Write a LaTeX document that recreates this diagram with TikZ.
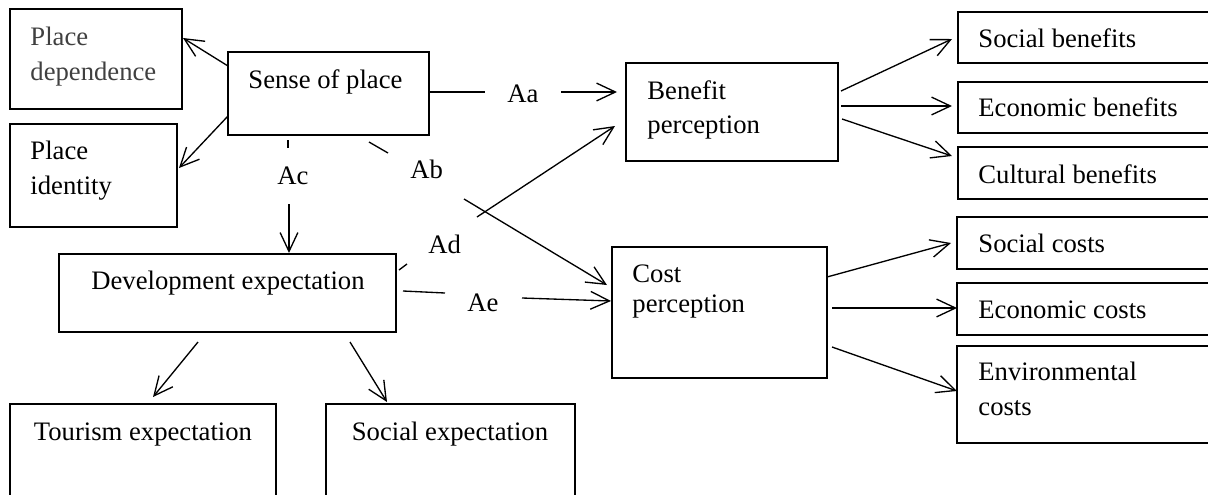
\documentclass[tikz,border=0pt]{standalone}
\usepackage{fontspec}
\setmainfont{Liberation Serif}
\usetikzlibrary{arrows.meta}
\definecolor{greytext}{HTML}{404040}
\begin{document}
\begin{tikzpicture}[x=0.45pt,y=-0.45pt,
  font=\fontsize{12pt}{14pt}\selectfont,
  box/.style={draw=black,line width=0.5pt,inner sep=0pt,outer sep=0pt,anchor=north west},
  txt/.style={inner sep=0pt,anchor=base west},
  ctxt/.style={inner sep=0pt,anchor=base},
  conn/.style={line width=0.6pt,-{Straight Barb[length=8.5pt,width=8pt,line width=0.6pt]}},
  plain/.style={line width=0.6pt}]
\useasboundingbox (0,0) rectangle (1208,494);
\clip (0,0) rectangle (1208,494);

% boxes
\node[box,minimum width=77.4pt,minimum height=45pt] (pd) at (10,9) {};
\node[box,minimum width=75.15pt,minimum height=46.35pt] (pi) at (10,124) {};
\node[box,minimum width=90.45pt,minimum height=37.35pt] (sp) at (228,52) {};
\node[box,minimum width=95.4pt,minimum height=44.1pt] (bp) at (626,63) {};
\node[box,minimum width=96.75pt,minimum height=58.95pt] (cp) at (612,247) {};
\node[box,minimum width=151.65pt,minimum height=35.1pt] (de) at (59,254) {};
\node[box,minimum width=119.7pt,minimum height=52.2pt] (te) at (10,404) {};
\node[box,minimum width=112.05pt,minimum height=52.2pt] (se) at (326,404) {};
\node[box,minimum width=122.4pt,minimum height=22.95pt] (sb) at (958,12) {};
\node[box,minimum width=122.4pt,minimum height=22.95pt] (eb) at (958,82) {};
\node[box,minimum width=122.4pt,minimum height=23.4pt] (cb) at (958,147) {};
\node[box,minimum width=122.4pt,minimum height=23.4pt] (sc) at (957,217) {};
\node[box,minimum width=122.4pt,minimum height=23.4pt] (ec) at (957,283) {};
\node[box,minimum width=122.4pt,minimum height=43.65pt] (env) at (957,346) {};

% texts
\node[txt,text=greytext] (pdA) at (30,45) {Place};
\node[txt,text=greytext] (pdB) at (30,80) {dependence};
\node[txt] (piA) at (30,159) {Place};
\node[txt] (piB) at (30,194) {identity};
\node[txt] (spT) at (248,88) {Sense of place};
\node[txt] (bpA) at (647,99) {Benefit};
\node[txt] (bpB) at (647,133) {perception};
\node[txt] (cpA) at (632,282) {Cost};
\node[txt] (cpB) at (632,312) {perception};
\node[ctxt] (deT) at (228,289) {Development expectation};
\node[ctxt] (teT) at (143,440) {Tourism expectation};
\node[ctxt] (seT) at (450,440) {Social expectation};
\node[txt] (sbT) at (978,47) {Social benefits};
\node[txt] (ebT) at (978,116) {Economic benefits};
\node[txt] (cbT) at (978,183) {Cultural benefits};
\node[txt] (scT) at (978,252) {Social costs};
\node[txt] (ecT) at (978,318) {Economic costs};
\node[txt] (envA) at (978,380) {Environmental};
\node[txt] (envB) at (978,415) {costs};

% path labels
\node[txt] (lAa) at (507,102) {Aa};
\node[txt] (lAb) at (410,178) {Ab};
\node[txt] (lAc) at (277,184) {Ac};
\node[txt] (lAd) at (428,253) {Ad};
\node[txt] (lAe) at (467,311) {Ae};

% connector end points
\coordinate (sp1) at (228,66);   \coordinate (pd1) at (183,38);
\coordinate (sp2) at (228,116);  \coordinate (pi1) at (179,168);
\coordinate (ac1) at (288,140);  \coordinate (ac2) at (288,148);
\coordinate (ac3) at (289,204);  \coordinate (de1) at (289,253);
\coordinate (ab1) at (369,142);  \coordinate (ab2) at (388,153);
\coordinate (ab3) at (464,199);  \coordinate (cp1) at (607,285);
\coordinate (aa1) at (429,92);   \coordinate (aa2) at (485,92);
\coordinate (aa3) at (561,92);   \coordinate (bp1) at (617,92);
\coordinate (ad1) at (399,270);  \coordinate (ad2) at (407,264);
\coordinate (ad3) at (477,217);  \coordinate (bp2) at (615,126);
\coordinate (ae1) at (403,291);  \coordinate (ae2) at (445,293);
\coordinate (ae3) at (522,298);  \coordinate (cp2) at (611,301);
\coordinate (de2) at (198,342);  \coordinate (te1) at (153,397);
\coordinate (de3) at (350,342);  \coordinate (se1) at (387,402);
\coordinate (bp3) at (841,91);   \coordinate (sb1) at (952,39);
\coordinate (bp4) at (841,106);  \coordinate (eb1) at (952,106);
\coordinate (bp5) at (842,119);  \coordinate (cb1) at (952,156);
\coordinate (cp3) at (827,277);  \coordinate (sc1) at (951,243);
\coordinate (cp4) at (832,308);  \coordinate (ec1) at (957,308);
\coordinate (cp5) at (832,347);  \coordinate (env1) at (957,391);

% connectors
\draw[conn] (sp1) -- (pd1);
\draw[conn] (sp2) -- (pi1);
\draw[plain] (ac1) -- (ac2);
\draw[conn] (ac3) -- (de1);
\draw[plain] (ab1) -- (ab2);
\draw[conn] (ab3) -- (cp1);
\draw[plain] (aa1) -- (aa2);
\draw[conn] (aa3) -- (bp1);
\draw[plain] (ad1) -- (ad2);
\draw[conn] (ad3) -- (bp2);
\draw[plain] (ae1) -- (ae2);
\draw[conn] (ae3) -- (cp2);
\draw[conn] (de2) -- (te1);
\draw[conn] (de3) -- (se1);
\draw[conn] (bp3) -- (sb1);
\draw[conn] (bp4) -- (eb1);
\draw[conn] (bp5) -- (cb1);
\draw[conn] (cp3) -- (sc1);
\draw[conn] (cp4) -- (ec1);
\draw[conn] (cp5) -- (env1);
\end{tikzpicture}
\end{document}
